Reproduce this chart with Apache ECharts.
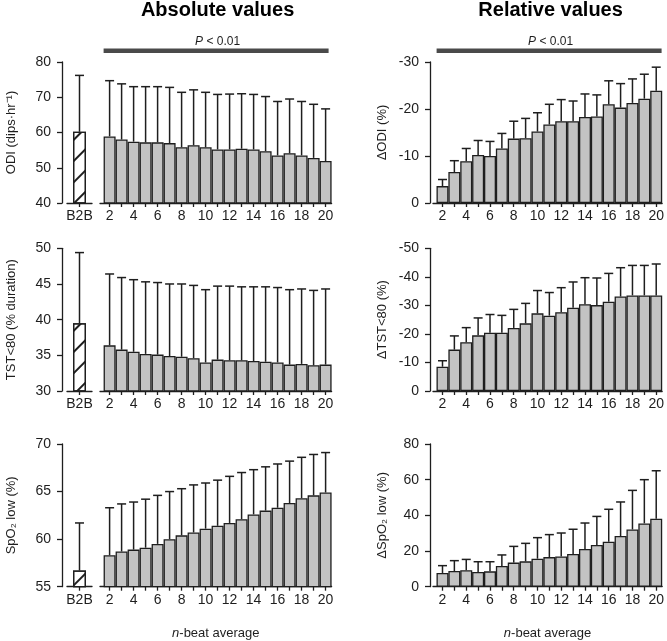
<!DOCTYPE html>
<html><head><meta charset="utf-8">
<script src="https://cdn.jsdelivr.net/npm/echarts@6/dist/echarts.min.js"></script>
<style>html,body{margin:0;padding:0;background:#fff}#c{width:667px;height:641px}</style>
</head><body><div id="c"></div>
<script>
// ---------- data ----------
const nBeats = [2,3,4,5,6,7,8,9,10,11,12,13,14,15,16,17,18,19,20];
const tickLabels = [2,4,6,8,10,12,14,16,18,20];
const b2bCategory = ['B2B'];

const odiB2B = 60.2, odiB2BErr = 76.2;
const odiAbs = [58.9,58.0,57.4,57.2,57.2,57.0,55.8,56.4,55.8,55.2,55.2,55.4,55.2,54.7,53.5,54.1,53.5,52.8,51.9];
const odiAbsErr = [74.7,73.8,73.0,73.0,73.0,72.8,71.4,72.1,71.4,70.8,70.9,71.0,70.8,70.2,68.8,69.5,68.8,68.0,66.7];
const odiRel = [-3.6,-6.6,-8.9,-10.2,-10.0,-11.6,-13.7,-13.8,-15.2,-16.7,-17.4,-17.4,-18.3,-18.4,-21.0,-20.3,-21.3,-22.2,-23.9];
const odiRelErr = [-5.0,-9.0,-11.6,-13.3,-13.1,-14.8,-17.4,-18.0,-19.2,-21.0,-22.0,-21.7,-23.2,-23.0,-26.0,-25.4,-26.4,-27.4,-28.9];

const tstB2B = 39.5, tstB2BErr = 49.4;
const tstAbs = [36.4,35.8,35.5,35.2,35.1,34.9,34.8,34.6,34.0,34.4,34.3,34.3,34.2,34.1,34.0,33.7,33.8,33.6,33.7];
const tstAbsErr = [46.4,45.9,45.6,45.3,45.2,45.0,45.0,44.8,44.2,44.7,44.7,44.6,44.6,44.6,44.5,44.2,44.3,44.1,44.3];
const tstRel = [-8.5,-14.5,-17.1,-19.5,-20.4,-20.4,-22.1,-23.7,-27.2,-26.4,-27.6,-29.2,-30.4,-30.1,-31.3,-33.1,-33.5,-33.5,-33.5];
const tstRelErr = [-10.6,-19.3,-22.2,-25.6,-26.8,-26.5,-28.6,-30.7,-35.2,-34.5,-36.2,-38.2,-39.7,-39.6,-41.2,-43.2,-44.0,-44.0,-44.5];

const spoB2B = 56.7, spoB2BErr = 61.7;
const spoAbs = [58.3,58.7,58.9,59.1,59.5,60.0,60.4,60.7,61.1,61.4,61.7,62.1,62.6,63.0,63.3,63.8,64.3,64.6,64.9];
const spoAbsErr = [63.3,63.7,63.9,64.2,64.6,65.0,65.3,65.7,65.9,66.2,66.6,67.0,67.3,67.6,67.9,68.2,68.6,68.9,69.1];
const spoRel = [7.7,8.8,9.2,8.2,8.6,11.6,13.5,14.2,15.7,16.6,17.0,18.3,21.1,23.4,25.2,28.4,32.1,35.5,38.1];
const spoRelErr = [11.8,14.6,15.3,14.0,14.0,17.8,22.6,24.3,27.5,29.2,30.1,32.2,35.7,39.4,43.4,47.5,54.0,60.0,65.0];

// ---------- style / layout ----------
const FONT = '"Liberation Sans", Arial, Helvetica, sans-serif';
const INK = '#1e1e1e';
const BAR = '#c3c3c3';
const ROWS = [{top:62, h:141}, {top:248.3, h:142.7}, {top:444, h:142.7}];
const UNIT = 12; // px per n-beat step
const XMIN = 1.2, XMAX = 20.5;
const MAINW = (XMAX - XMIN) * UNIT;
const LEFT_YAXIS = 62, B2B_LEFT = 67, B2B_W = 25, LEFT_MAIN = 100;
const RIGHT_YAXIS = 430, RIGHT_MAIN = 433;

const grids = [], xAxes = [], yAxes = [], series = [];

function errRender(params, api) {
  const x = api.value(0), v = api.value(1), e = api.value(2);
  const p0 = api.coord([x, v]), p1 = api.coord([x, e]);
  const hw = 4.5;
  return {type:'group', children:[
    {type:'line', shape:{x1:p0[0], y1:p0[1], x2:p1[0], y2:p1[1]}, style:{stroke:INK, lineWidth:1.5}},
    {type:'line', shape:{x1:p1[0]-hw, y1:p1[1], x2:p1[0]+hw, y2:p1[1]}, style:{stroke:INK, lineWidth:1.5}}
  ]};
}

function yAxisDef(gi, range, show, offset, name, gap) {
  return {
    type:'value', gridIndex:gi, min:range[0], max:range[1], interval:range[2], inverse:!!range[3],
    show:show, offset:offset, name:name, nameLocation:'middle', nameGap:gap,
    nameTextStyle:{fontFamily:FONT, fontSize:13, color:INK},
    axisLine:{show:true, lineStyle:{color:INK, width:1.3}},
    axisTick:{show:true, length:5, lineStyle:{color:INK, width:1.3}},
    axisLabel:{fontFamily:FONT, fontSize:14, color:INK, margin:11},
    splitLine:{show:false}
  };
}

function mainXAxis(gi, withName) {
  return {
    type:'value', gridIndex:gi, min:XMIN, max:XMAX,
    axisLine:{show:true, onZero:false, lineStyle:{color:INK, width:1.3}},
    axisTick:{show:true, length:4, customValues:nBeats, lineStyle:{color:INK, width:1.3}},
    axisLabel:{fontFamily:FONT, fontSize:14, color:INK, margin:6, customValues:tickLabels},
    splitLine:{show:false},
    name: withName ? '{i|n}-beat average' : '',
    nameLocation:'middle', nameGap:40,
    nameTextStyle:{fontFamily:FONT, fontSize:13, color:INK, rich:{i:{fontFamily:FONT, fontSize:13, color:INK, fontStyle:'italic'}}}
  };
}

function barSeries(xi, yi, vals) {
  return {type:'bar', xAxisIndex:xi, yAxisIndex:yi, barWidth:UNIT,
    data: nBeats.map((n,i)=>[n, vals[i]]),
    itemStyle:{color:BAR, borderColor:INK, borderWidth:1.3}, silent:true, animation:false};
}
function errSeries(xi, yi, vals, errs) {
  return {type:'custom', xAxisIndex:xi, yAxisIndex:yi, renderItem:errRender,
    data: nBeats.map((n,i)=>[n, vals[i], errs[i]]), z:5, silent:true, animation:false};
}

function leftPanel(row, range, name, b2b, b2bErr, vals, errs, last) {
  const top = ROWS[row].top, h = ROWS[row].h;
  // B2B grid
  let gi = grids.length;
  grids.push({left:B2B_LEFT, top:top, width:B2B_W, height:h});
  xAxes.push({type:'category', gridIndex:gi, data:b2bCategory,
    axisLine:{show:true, onZero:false, lineStyle:{color:INK, width:1.3}},
    axisTick:{show:true, length:4, alignWithLabel:true, lineStyle:{color:INK, width:1.3}},
    axisLabel:{fontFamily:FONT, fontSize:14, color:INK, margin:6}});
  yAxes.push(yAxisDef(gi, range, true, B2B_LEFT - LEFT_YAXIS, name, 44));
  series.push({type:'bar', xAxisIndex:gi, yAxisIndex:gi, barWidth:13, data:[b2b],
    itemStyle:{color:'#ffffff', borderColor:INK, borderWidth:1.3,
      decal:{symbol:'rect', symbolSize:1, dashArrayX:[1,0], dashArrayY:[1.5,12.5], rotation:-Math.PI/4, color:INK}},
    silent:true, animation:false});
  series.push({type:'custom', xAxisIndex:gi, yAxisIndex:gi, renderItem:errRender, data:[[0, b2b, b2bErr]], z:5, silent:true, animation:false});
  // main grid
  gi = grids.length;
  grids.push({left:LEFT_MAIN, top:top, width:MAINW, height:h});
  xAxes.push(mainXAxis(gi, last));
  yAxes.push(yAxisDef(gi, range, false, 0, '', 0));
  series.push(barSeries(gi, gi, vals));
  series.push(errSeries(gi, gi, vals, errs));
}

function rightPanel(row, range, name, vals, errs, last) {
  const top = ROWS[row].top, h = ROWS[row].h;
  const gi = grids.length;
  grids.push({left:RIGHT_MAIN, top:top, width:MAINW, height:h});
  xAxes.push(mainXAxis(gi, last));
  yAxes.push(yAxisDef(gi, range, true, RIGHT_MAIN - RIGHT_YAXIS, name, 41));
  series.push(barSeries(gi, gi, vals));
  series.push(errSeries(gi, gi, vals, errs));
}

leftPanel(0, [40,80,10], 'ODI (dips·hr⁻¹)', odiB2B, odiB2BErr, odiAbs, odiAbsErr, false);
leftPanel(1, [30,50,5], 'TST<80 (% duration)', tstB2B, tstB2BErr, tstAbs, tstAbsErr, false);
leftPanel(2, [55,70,5], 'SpO₂ low (%)', spoB2B, spoB2BErr, spoAbs, spoAbsErr, true);
rightPanel(0, [-30,0,10,true], 'ΔODI (%)', odiRel, odiRelErr, false);
rightPanel(1, [-50,0,10,true], 'ΔTST<80 (%)', tstRel, tstRelErr, false);
rightPanel(2, [0,80,20], 'ΔSpO₂ low (%)', spoRel, spoRelErr, true);

const leftBar0 = LEFT_MAIN + (1.5 - XMIN) * UNIT, rightBar0 = RIGHT_MAIN + (1.5 - XMIN) * UNIT;
const barsW = 19 * UNIT;
function sigGroup(x0) {
  return [
    {type:'rect', shape:{x:x0, y:48.5, width:barsW - 3, height:4.5}, style:{fill:'#4a4a4a'}},
    {type:'text', x:x0 + barsW/2, y:42, style:{text:'{i|P} < 0.01', rich:{i:{fontStyle:'italic', fontFamily:FONT, fontSize:12, fill:INK}}, fontFamily:FONT, fontSize:12, fill:INK, align:'center', verticalAlign:'middle'}}
  ];
}
const graphic = [
  {type:'text', x:leftBar0 + barsW/2, y:10, style:{text:'Absolute values', fontFamily:FONT, fontWeight:'bold', fontSize:20, fill:'#000', align:'center', verticalAlign:'middle'}},
  {type:'text', x:rightBar0 + barsW/2, y:10, style:{text:'Relative values', fontFamily:FONT, fontWeight:'bold', fontSize:20, fill:'#000', align:'center', verticalAlign:'middle'}},
  ...sigGroup(leftBar0), ...sigGroup(rightBar0)
];

const chart = echarts.init(document.getElementById('c'), null, {renderer:'canvas'});
chart.setOption({animation:false, grid:grids, xAxis:xAxes, yAxis:yAxes, series:series, graphic:graphic});
</script></body></html>
